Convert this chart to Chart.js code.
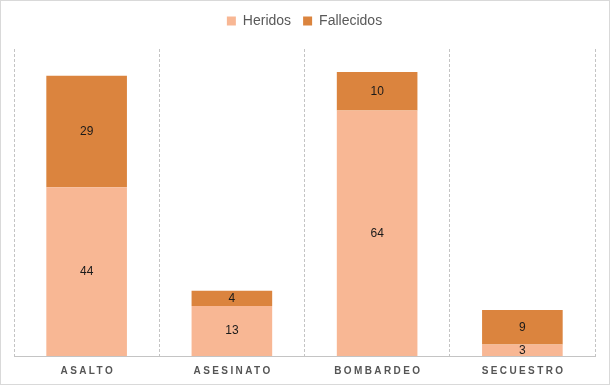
<!DOCTYPE html>
<html>
<head>
<meta charset="utf-8">
<script src="https://cdn.jsdelivr.net/npm/chart.js@4"></script>
<style>
  html, body { margin: 0; padding: 0; background: #fff; }
  .wrap { width: 610px; height: 385px; box-sizing: border-box; border: 1px solid #d9d9d9; }
</style>
</head>
<body>
<div class="wrap"><canvas id="grafico" width="608" height="383"></canvas></div>
<script>
const categorias = ["ASALTO", "ASESINATO", "BOMBARDEO", "SECUESTRO"]
const heridos = [44, 13, 64, 3]
const fallecidos = [29, 4, 10, 9]

// espacio extra bajo la leyenda
const margenLeyenda = {
    id: "margenLeyenda",
    beforeInit(chart) {
        const fit = chart.legend.fit
        chart.legend.fit = function () {
            fit.bind(chart.legend)()
            this.height += 11
        }
    }
}

// etiquetas de valor dentro de cada segmento
const etiquetasValor = {
    id: "etiquetasValor",
    afterDatasetsDraw(chart) {
        const ctx = chart.ctx
        ctx.save()
        ctx.font = "12px 'Liberation Sans', Arial, sans-serif"
        ctx.fillStyle = "#1a1a1a"
        ctx.textAlign = "center"
        ctx.textBaseline = "middle"
        chart.data.datasets.forEach((ds, i) => {
            const meta = chart.getDatasetMeta(i)
            meta.data.forEach((bar, j) => {
                ctx.fillText(ds.data[j], bar.x, (bar.y + bar.base) / 2)
            })
        })
        ctx.restore()
    }
}

// nombres de categoría espaciados bajo el eje
const etiquetasEje = {
    id: "etiquetasEje",
    afterDraw(chart) {
        const ctx = chart.ctx
        const x = chart.scales.x
        ctx.save()
        ctx.font = "bold 10px 'Liberation Sans', Arial, sans-serif"
        ctx.fillStyle = "#555555"
        ctx.letterSpacing = "2.4px"
        ctx.textAlign = "center"
        ctx.textBaseline = "middle"
        categorias.forEach((c, i) => {
            ctx.fillText(c, x.getPixelForValue(i) + 1.2, x.bottom + 15)
        })
        ctx.restore()
    }
}

let grafico = new Chart(document.getElementById("grafico").getContext("2d"), {
    type: "bar",
    data: {
        labels: categorias,
        datasets: [
            { label: "Heridos", data: heridos, backgroundColor: "#F8B794" },
            { label: "Fallecidos", data: fallecidos, backgroundColor: "#DB843E" }
        ]
    },
    options: {
        responsive: false,
        animation: false,
        layout: { padding: { left: 13, right: 14, top: 1, bottom: 28 } },
        datasets: { bar: { categoryPercentage: 1, barPercentage: 0.555 } },
        plugins: {
            legend: {
                position: "top",
                labels: {
                    boxWidth: 9,
                    boxHeight: 9,
                    padding: 12,
                    color: "#595959",
                    font: { size: 14, family: "'Liberation Sans', Arial, sans-serif" }
                }
            },
            tooltip: { enabled: false }
        },
        scales: {
            x: {
                stacked: true,
                ticks: { display: false },
                grid: { color: "#c4c4c4", tickLength: 0, drawTicks: false },
                border: { color: "#c4c4c4", dash: [3, 2] }
            },
            y: {
                stacked: true,
                display: false,
                min: 0,
                max: 80
            }
        }
    },
    plugins: [margenLeyenda, etiquetasValor, etiquetasEje]
})
</script>
</body>
</html>
